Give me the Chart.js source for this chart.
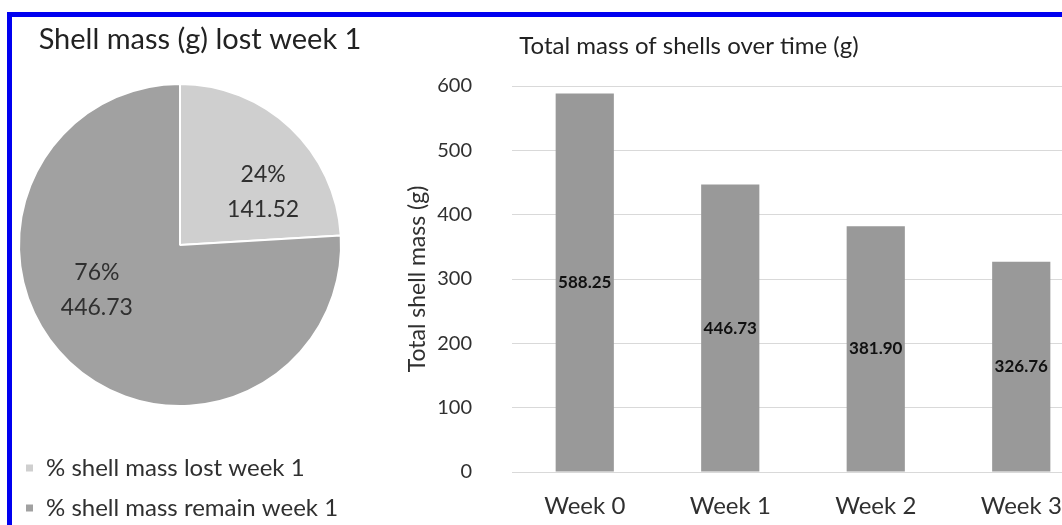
<!DOCTYPE html>
<html>
<head>
<meta charset="utf-8">
<script src="https://cdn.jsdelivr.net/npm/chart.js@4.4.1/dist/chart.umd.min.js"></script>
<style>
  body { margin: 0; width: 1062px; height: 525px; overflow: hidden; background: #fff; position: relative; }
  #frame { position: absolute; left: 7px; top: 12px; width: 1200px; height: 700px;
           border-top: 5px solid #0000f0; border-left: 5px solid #0000f0; }
  #pieChart { position: absolute; left: 0; top: 0; }
  #barChart { position: absolute; left: 380px; top: 0; }
</style>
</head>
<body>
<div id="frame"></div>
<canvas id="pieChart" width="400" height="540"></canvas>
<canvas id="barChart" width="760" height="525"></canvas>
<script>
// pie: shell mass after week 1
const pieLabels = ['% shell mass lost week 1', '% shell mass remain week 1'];
const pieValues = [141.52, 446.73];
const pieColors = ['#cfcfcf', '#a1a1a1'];

// bars: total mass per week
const weeks = ['Week 0', 'Week 1', 'Week 2', 'Week 3'];
const totalMass = [588.25, 446.73, 381.90, 326.76];
const yMin = 0, yMax = 600, yStep = 100;

const FONT = 'Lato, "Open Sans", sans-serif';
const TEXT = '#303030';

// draws a free-standing title (Excel centres it on the whole chart object)
const figTitle = {
  id: 'figTitle',
  afterDraw(chart, args, opts) {
    const ctx = chart.ctx;
    ctx.save();
    ctx.font = opts.font;
    ctx.fillStyle = opts.color;
    ctx.textAlign = 'center';
    ctx.textBaseline = 'alphabetic';
    ctx.fillText(opts.text, opts.x, opts.y);
    ctx.restore();
  }
};

// percent + value labels inside the slices
const pieValueLabels = {
  id: 'pieValueLabels',
  afterDatasetsDraw(chart, args, opts) {
    const ctx = chart.ctx;
    const meta = chart.getDatasetMeta(0);
    const data = chart.data.datasets[0].data;
    const total = data.reduce((a, b) => a + b, 0);
    ctx.save();
    ctx.font = opts.font;
    ctx.fillStyle = opts.color;
    ctx.textAlign = 'center';
    ctx.textBaseline = 'middle';
    meta.data.forEach((arc, i) => {
      const p = arc.getProps(['x', 'y', 'startAngle', 'endAngle', 'outerRadius'], true);
      const a = (p.startAngle + p.endAngle) / 2 + opts.angleShift;
      const r = p.outerRadius * opts.radiusFactor;
      const cx = p.x + Math.cos(a) * r;
      const cy = p.y + Math.sin(a) * r + opts.nudgeY;
      const pct = Math.round(data[i] / total * 100) + '%';
      ctx.fillText(pct, cx, cy - opts.lineGap / 2);
      ctx.fillText(data[i].toFixed(2), cx, cy + opts.lineGap / 2);
    });
    ctx.restore();
  }
};

// value labels centred inside each bar
const barValueLabels = {
  id: 'barValueLabels',
  afterDatasetsDraw(chart, args, opts) {
    const ctx = chart.ctx;
    const meta = chart.getDatasetMeta(0);
    const data = chart.data.datasets[0].data;
    ctx.save();
    ctx.font = opts.font;
    ctx.fillStyle = opts.color;
    ctx.textAlign = 'center';
    ctx.textBaseline = 'middle';
    meta.data.forEach((bar, i) => {
      const p = bar.getProps(['x', 'y', 'base'], true);
      ctx.fillText(data[i].toFixed(2), p.x, (p.y + p.base) / 2);
    });
    ctx.restore();
  }
};

new Chart(document.getElementById('pieChart'), {
  type: 'pie',
  data: {
    labels: pieLabels,
    datasets: [{
      data: pieValues,
      backgroundColor: pieColors,
      borderColor: '#ffffff',
      borderWidth: 2
    }]
  },
  options: {
    responsive: false,
    animation: false,
    radius: 161,
    layout: { padding: { left: 9, right: 49, top: 50, bottom: 10 } },
    plugins: {
      legend: {
        position: 'bottom',
        align: 'start',
        labels: {
          boxWidth: 9,
          boxHeight: 9,
          padding: 16,
          color: TEXT,
          font: { family: FONT, size: 24 }
        }
      },
      tooltip: { enabled: false },
      figTitle: { text: 'Shell mass (g) lost week 1', x: 200, y: 49, font: '29px ' + FONT, color: '#222' },
      pieValueLabels: { font: '23px ' + FONT, color: TEXT, angleShift: 0.28, radiusFactor: 0.6, lineGap: 35, nudgeY: -4 }
    }
  },
  plugins: [figTitle, pieValueLabels]
});

new Chart(document.getElementById('barChart'), {
  type: 'bar',
  data: {
    labels: weeks,
    datasets: [{
      data: totalMass,
      backgroundColor: '#999999',
      categoryPercentage: 1,
      barPercentage: 0.4
    }]
  },
  options: {
    responsive: false,
    animation: false,
    layout: { padding: { left: 0, right: 46, top: 86, bottom: 0 } },
    scales: {
      x: {
        grid: { display: false },
        border: { display: false },
        ticks: { color: TEXT, padding: 12, font: { family: FONT, size: 24 } },
        afterFit(scale) { scale.height = 53; }
      },
      y: {
        min: yMin,
        max: yMax,
        grid: { color: '#d9d9d9', drawTicks: false },
        border: { display: false },
        ticks: { stepSize: yStep, color: TEXT, padding: 40, font: { family: FONT, size: 20 } },
        title: {
          display: true,
          text: 'Total shell mass (g)',
          color: TEXT,
          font: { family: FONT, size: 23 },
          padding: { top: 24, bottom: 0 }
        },
        afterFit(scale) { scale.width = 132; }
      }
    },
    plugins: {
      legend: { display: false },
      tooltip: { enabled: false },
      figTitle: { text: 'Total mass of shells over time (g)', x: 309, y: 54, font: '24px ' + FONT, color: '#222' },
      barValueLabels: { font: 'bold 17px ' + FONT, color: '#111' }
    }
  },
  plugins: [figTitle, barValueLabels]
});
</script>
</body>
</html>
